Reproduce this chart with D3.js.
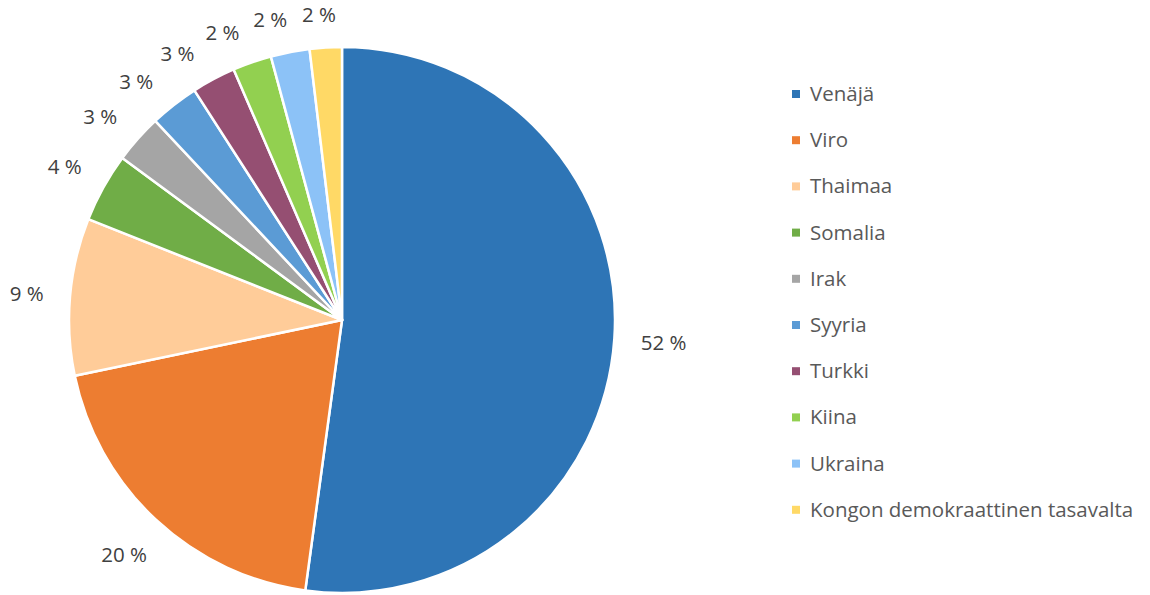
<!DOCTYPE html>
<html><head><meta charset="utf-8">
<script src="https://cdn.jsdelivr.net/npm/d3@7/dist/d3.min.js"></script>
<style>body{margin:0;background:#fff;}svg{display:block;}</style>
</head><body>
<svg id="chart" width="1150" height="595"></svg>
<script>
const categories = ["Venäjä","Viro","Thaimaa","Somalia","Irak","Syyria","Turkki","Kiina","Ukraina","Kongon demokraattinen tasavalta"];
const values = [52.2, 19.6, 9.3, 4.1, 2.9, 2.9, 2.6, 2.3, 2.3, 1.9];
const labels = ["52 %","20 %","9 %","4 %","3 %","3 %","3 %","2 %","2 %","2 %"];
const colors = ["#2E75B6","#ED7D31","#FFCC99","#70AD47","#A5A5A5","#5B9BD5","#954F72","#92D050","#8CC2F7","#FFD966"];

const svg = d3.select("#chart");
const cx = 342, cy = 320, r = 273;
const font = "'Open Sans', sans-serif";

const pie = d3.pie().sort(null).value(d => d)(values);
const arc = d3.arc().innerRadius(0).outerRadius(r);
const g = svg.append("g").attr("transform", `translate(${cx},${cy})`);
g.selectAll("path").data(pie).join("path")
  .attr("d", arc)
  .attr("fill", (d,i) => colors[i])
  .attr("stroke", "#fff").attr("stroke-width", 2.5).attr("stroke-linejoin","round");

// label angles with simple collision avoidance (push backwards from the last slice)
const minSep = 9.1 * Math.PI / 180;
const angles = pie.map(d => (d.startAngle + d.endAngle) / 2);
angles[angles.length-1] -= 0.9 * Math.PI / 180;
for (let i = angles.length - 2; i >= 0; i--) {
  angles[i] = Math.min(angles[i], angles[i+1] - minSep);
}

const lab = g.selectAll("text.lab").data(pie).join("text").attr("class","lab")
  .attr("font-family", font).attr("font-size", 20.5).attr("fill", "#404040")
  .attr("text-anchor","middle").attr("dominant-baseline","central")
  .text((d,i) => labels[i]);
lab.each(function(d, i){
  const a = angles[i];
  const bb = this.getBBox();
  const hw = bb.width/2, hh = 7;
  const s = Math.sin(a), c = Math.cos(a);
  const dist = r + 26 + hw*Math.abs(s) + hh*Math.abs(c);
  d3.select(this).attr("x", dist*s).attr("y", -dist*c);
});

// legend
const leg = svg.append("g").attr("transform","translate(792,94)");
const row = leg.selectAll("g").data(categories).join("g")
  .attr("transform",(d,i)=>`translate(0,${i*46.2})`);
row.append("rect").attr("x",0).attr("y",-4).attr("width",8).attr("height",8)
  .attr("fill",(d,i)=>colors[i]);
row.append("text").attr("x",18).attr("y",-1).attr("dominant-baseline","central")
  .attr("font-family",font).attr("font-size",20.5).attr("fill","#595959")
  .text(d=>d);
</script>
</body></html>
